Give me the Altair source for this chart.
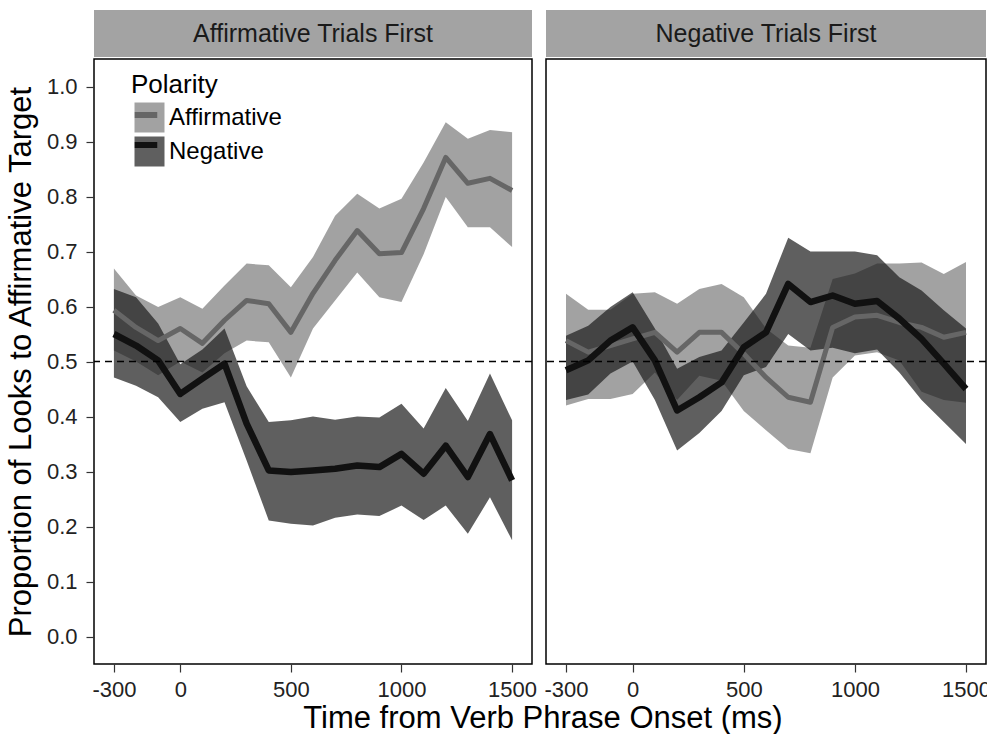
import altair as alt
import pandas as pd

FONT = "Liberation Sans"

times = [-300, -200, -100, 0, 100, 200, 300, 400, 500, 600, 700, 800, 900,
         1000, 1100, 1200, 1300, 1400, 1500]
panels = ["Affirmative Trials First", "Negative Trials First"]
polarities = ["Affirmative", "Negative"]

# Panel 1: Affirmative Trials First
aff_mean_A = [0.593, 0.562, 0.538, 0.560, 0.533, 0.575, 0.611, 0.605, 0.553, 0.624,
              0.684, 0.738, 0.696, 0.698, 0.778, 0.871, 0.824, 0.833, 0.811]
aff_hi_A = [0.669, 0.620, 0.599, 0.617, 0.596, 0.638, 0.678, 0.675, 0.635, 0.690,
            0.765, 0.805, 0.778, 0.796, 0.862, 0.935, 0.905, 0.921, 0.917]
aff_lo_A = [0.520, 0.500, 0.475, 0.500, 0.480, 0.515, 0.538, 0.535, 0.471, 0.560,
            0.611, 0.662, 0.617, 0.608, 0.695, 0.799, 0.744, 0.744, 0.708]
neg_mean_A = [0.550, 0.529, 0.502, 0.441, 0.469, 0.496, 0.387, 0.302, 0.299, 0.302,
              0.305, 0.311, 0.308, 0.332, 0.296, 0.347, 0.290, 0.368, 0.284]
neg_hi_A = [0.632, 0.617, 0.569, 0.495, 0.522, 0.560, 0.455, 0.390, 0.393, 0.400,
            0.394, 0.400, 0.398, 0.423, 0.378, 0.452, 0.392, 0.478, 0.393]
neg_lo_A = [0.471, 0.456, 0.435, 0.390, 0.414, 0.426, 0.320, 0.211, 0.205, 0.202,
            0.216, 0.222, 0.219, 0.238, 0.212, 0.238, 0.187, 0.253, 0.175]

# Panel 2: Negative Trials First
aff_mean_N = [0.538, 0.517, 0.529, 0.541, 0.553, 0.517, 0.553, 0.553, 0.514, 0.471,
              0.435, 0.426, 0.562, 0.581, 0.584, 0.571, 0.562, 0.544, 0.553]
aff_hi_N = [0.623, 0.594, 0.594, 0.623, 0.626, 0.605, 0.632, 0.641, 0.617, 0.560,
            0.529, 0.525, 0.650, 0.660, 0.678, 0.678, 0.680, 0.659, 0.681]
aff_lo_N = [0.420, 0.432, 0.432, 0.441, 0.480, 0.430, 0.474, 0.465, 0.410, 0.375,
            0.341, 0.333, 0.471, 0.511, 0.517, 0.502, 0.445, 0.430, 0.425]
neg_mean_N = [0.484, 0.502, 0.538, 0.562, 0.502, 0.411, 0.435, 0.462, 0.526, 0.553,
              0.641, 0.608, 0.620, 0.605, 0.610, 0.578, 0.541, 0.496, 0.450]
neg_hi_N = [0.547, 0.565, 0.599, 0.626, 0.560, 0.487, 0.508, 0.520, 0.571, 0.623,
            0.725, 0.700, 0.700, 0.700, 0.693, 0.653, 0.629, 0.593, 0.560]
neg_lo_N = [0.430, 0.440, 0.478, 0.500, 0.430, 0.338, 0.370, 0.410, 0.475, 0.490,
            0.550, 0.520, 0.525, 0.515, 0.522, 0.480, 0.430, 0.390, 0.350]

x_ticks = [-300, 0, 500, 1000, 1500]
y_ticks = [0.0, 0.1, 0.2, 0.3, 0.4, 0.5, 0.6, 0.7, 0.8, 0.9, 1.0]
ref_level = [0.5]

ribbon_fill = ["#7c7c7c", "#1e1e1e"]
line_color = ["#666666", "#111111"]
line_width = [5, 6.5]
# separate (invisible-label) domain for the line legend so it is not merged with the ribbon legend
line_keys = [p + " " for p in polarities]


def make_df(series):
    rows = []
    for pol, key, (m, lo, hi) in zip(polarities, line_keys, series):
        for t, a, b, c in zip(times, m, lo, hi):
            rows.append({"Time": t, "Polarity": pol, "PolarityL": key,
                         "PolarityW": pol, "mean": a, "lo": b, "hi": c})
    return pd.DataFrame(rows)


df_A = make_df([(aff_mean_A, aff_lo_A, aff_hi_A), (neg_mean_A, neg_lo_A, neg_hi_A)])
df_N = make_df([(aff_mean_N, aff_lo_N, aff_hi_N), (neg_mean_N, neg_lo_N, neg_hi_N)])

LX, LY = 37, 62
legend_common = dict(
    title="Polarity", orient="none", symbolSize=900,
    titleFontSize=26, titleFontWeight="normal", titleFont=FONT,
    labelFontSize=24, labelFont=FONT, titlePadding=2,
)
fill_legend = alt.Legend(
    legendX=LX, legendY=LY, symbolType="square", symbolStrokeWidth=0,
    symbolOpacity=0.71, rowPadding=0, labelOffset=1,
    titleColor="black", labelColor="black", **legend_common,
)
stroke_legend = alt.Legend(
    legendX=LX - 3, legendY=LY - 3, symbolType="M-0.75,0H0.75", symbolStrokeWidth=6,
    symbolOpacity=1, rowPadding=-6, labelOffset=1,
    titleColor="transparent", labelColor="transparent", **legend_common,
)

W_L, W_R, H = 438, 440, 605
xscale = alt.Scale(domain=[-390, 1590], nice=False, zero=False)
yscale = alt.Scale(domain=[-0.05, 1.05], nice=False, zero=False)
x_axis = alt.Axis(values=x_ticks, title=None, labelFontSize=22, tickSize=8,
                  labelPadding=7, domain=False, grid=False, labelFlush=False,
                  labelExpr="'' + datum.value")


def panel(df, width, show_y):
    if show_y:
        y_axis = alt.Axis(values=y_ticks, format=".1f",
                          title="Proportion of Looks to Affirmative Target",
                          titleFontSize=31, titleFontWeight="normal", titleColor="black",
                          labelFontSize=22, tickSize=8, labelPadding=9, titlePadding=9,
                          domain=False, grid=False)
    else:
        y_axis = None
    base = alt.Chart(df)
    ribbon = base.mark_area(opacity=0.71).encode(
        x=alt.X("Time:Q", scale=xscale, axis=x_axis),
        y=alt.Y("lo:Q", scale=yscale, axis=y_axis),
        y2="hi:Q",
        fill=alt.Fill("Polarity:N", scale=alt.Scale(domain=polarities, range=ribbon_fill),
                      legend=fill_legend),
    )
    line = base.mark_line(strokeJoin="round").encode(
        x=alt.X("Time:Q", scale=xscale, axis=x_axis),
        y=alt.Y("mean:Q", scale=yscale, axis=y_axis),
        stroke=alt.Stroke("PolarityL:N", scale=alt.Scale(domain=line_keys, range=line_color),
                          legend=stroke_legend),
        strokeWidth=alt.StrokeWidth("PolarityW:N",
                                    scale=alt.Scale(domain=polarities, range=line_width),
                                    legend=None),
    )
    rule = alt.Chart(pd.DataFrame({"ref": ref_level})).mark_rule(
        color="black", strokeDash=[7, 5], strokeWidth=1.6
    ).encode(y=alt.Y("ref:Q", scale=yscale, axis=y_axis))
    return alt.layer(ribbon, line, rule).properties(
        width=width, height=H,
        view=alt.ViewBackground(stroke="black", strokeWidth=1.5, fill="white"),
    )


def strip(name, width):
    sdf = pd.DataFrame({"panel": [name]})
    band = alt.Scale(paddingInner=0, paddingOuter=0)
    b = alt.Chart(sdf).encode(
        x=alt.X("panel:N", axis=None, scale=band),
        y=alt.Y("panel:N", axis=None, scale=band),
    )
    rect = b.mark_rect(color="#a3a3a3")
    txt = b.mark_text(fontSize=25, font=FONT, color="#1a1a1a").encode(text="panel:N")
    return alt.layer(rect, txt).properties(
        width=width, height=47,
        view=alt.ViewBackground(stroke="transparent", strokeWidth=0),
    )


col_A = alt.vconcat(strip(panels[0], W_L), panel(df_A, W_L, True), spacing=1)
col_N = alt.vconcat(strip(panels[1], W_R), panel(df_N, W_R, False), spacing=1)

chart = alt.hconcat(col_A, col_N, spacing=5).properties(
    title=alt.TitleParams("Time from Verb Phrase Onset (ms)", orient="bottom",
                          anchor="middle", fontSize=31, fontWeight="normal",
                          color="black", font=FONT, dx=45, offset=3),
    padding={"left": 4, "top": 10, "right": -5, "bottom": 0},
    background="white",
).configure(font=FONT).configure_axis(
    labelFont=FONT, titleFont=FONT, labelColor="#222222", tickColor="#333333",
    tickWidth=1.2,
)

chart.save("out.html", embed_options={"renderer": "svg", "actions": False})
